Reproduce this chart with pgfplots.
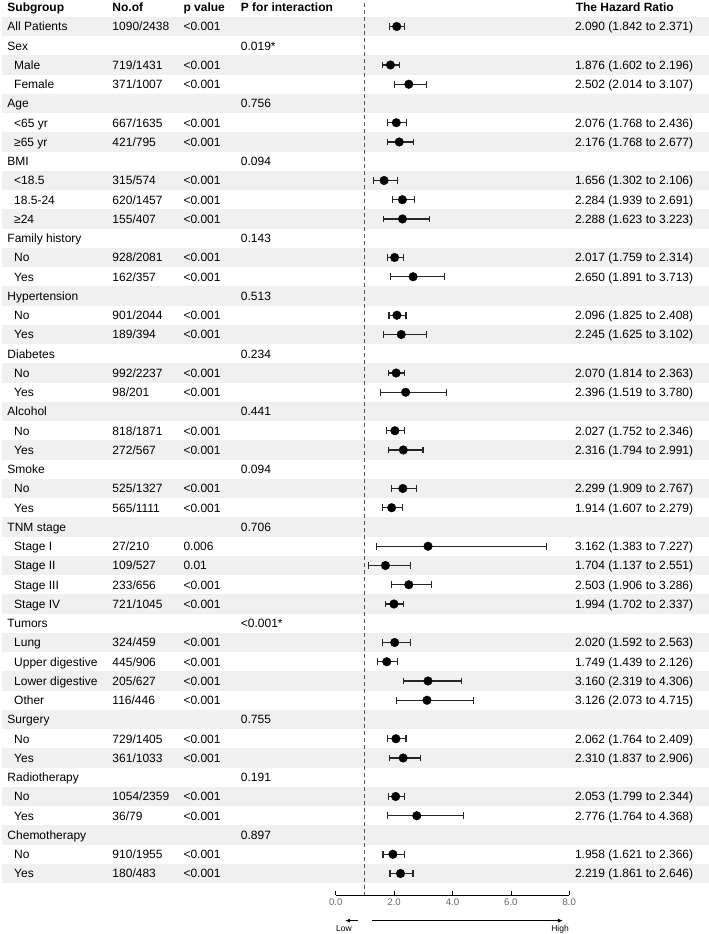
\documentclass[border=0pt]{standalone}
\usepackage{fontspec}
\setmainfont{Liberation Sans}
\usepackage{pgfplots}
\pgfplotsset{compat=1.18}
\usepackage{pgfplotstable}
\usetikzlibrary{arrows.meta}
\definecolor{band}{HTML}{F0F0F0}
\definecolor{dashc}{HTML}{555555}
\definecolor{tickc}{HTML}{666666}

\pgfplotstableread[col sep=comma]{
row,lev,label
1,0,All Patients
2,0,Sex
3,1,Male
4,1,Female
5,0,Age
6,1,<65 yr
7,1,≥65 yr
8,0,BMI
9,1,<18.5
10,1,18.5-24
11,1,≥24
12,0,Family history
13,1,No
14,1,Yes
15,0,Hypertension
16,1,No
17,1,Yes
18,0,Diabetes
19,1,No
20,1,Yes
21,0,Alcohol
22,1,No
23,1,Yes
24,0,Smoke
25,1,No
26,1,Yes
27,0,TNM stage
28,1,Stage I
29,1,Stage II
30,1,Stage III
31,1,Stage IV
32,0,Tumors
33,1,Lung
34,1,Upper digestive
35,1,Lower digestive
36,1,Other
37,0,Surgery
38,1,No
39,1,Yes
40,0,Radiotherapy
41,1,No
42,1,Yes
43,0,Chemotherapy
44,1,No
45,1,Yes
}\labtab

\pgfplotstableread[col sep=comma]{
row,n,p
1,1090/2438,<0.001
3,719/1431,<0.001
4,371/1007,<0.001
6,667/1635,<0.001
7,421/795,<0.001
9,315/574,<0.001
10,620/1457,<0.001
11,155/407,<0.001
13,928/2081,<0.001
14,162/357,<0.001
16,901/2044,<0.001
17,189/394,<0.001
19,992/2237,<0.001
20,98/201,<0.001
22,818/1871,<0.001
23,272/567,<0.001
25,525/1327,<0.001
26,565/1111,<0.001
28,27/210,0.006
29,109/527,0.01
30,233/656,<0.001
31,721/1045,<0.001
33,324/459,<0.001
34,445/906,<0.001
35,205/627,<0.001
36,116/446,<0.001
38,729/1405,<0.001
39,361/1033,<0.001
41,1054/2359,<0.001
42,36/79,<0.001
44,910/1955,<0.001
45,180/483,<0.001
}\nptab

\pgfplotstableread[col sep=comma]{
row,pint
2,0.019*
5,0.756
8,0.094
12,0.143
15,0.513
18,0.234
21,0.441
24,0.094
27,0.706
32,<0.001*
37,0.755
40,0.191
43,0.897
}\pinttab

\pgfplotstableread[col sep=comma]{
row,hr,lo,hi,txt
1,2.090,1.842,2.371,2.090 (1.842 to 2.371)
3,1.876,1.602,2.196,1.876 (1.602 to 2.196)
4,2.502,2.014,3.107,2.502 (2.014 to 3.107)
6,2.076,1.768,2.436,2.076 (1.768 to 2.436)
7,2.176,1.768,2.677,2.176 (1.768 to 2.677)
9,1.656,1.302,2.106,1.656 (1.302 to 2.106)
10,2.284,1.939,2.691,2.284 (1.939 to 2.691)
11,2.288,1.623,3.223,2.288 (1.623 to 3.223)
13,2.017,1.759,2.314,2.017 (1.759 to 2.314)
14,2.650,1.891,3.713,2.650 (1.891 to 3.713)
16,2.096,1.825,2.408,2.096 (1.825 to 2.408)
17,2.245,1.625,3.102,2.245 (1.625 to 3.102)
19,2.070,1.814,2.363,2.070 (1.814 to 2.363)
20,2.396,1.519,3.780,2.396 (1.519 to 3.780)
22,2.027,1.752,2.346,2.027 (1.752 to 2.346)
23,2.316,1.794,2.991,2.316 (1.794 to 2.991)
25,2.299,1.909,2.767,2.299 (1.909 to 2.767)
26,1.914,1.607,2.279,1.914 (1.607 to 2.279)
28,3.162,1.383,7.227,3.162 (1.383 to 7.227)
29,1.704,1.137,2.551,1.704 (1.137 to 2.551)
30,2.503,1.906,3.286,2.503 (1.906 to 3.286)
31,1.994,1.702,2.337,1.994 (1.702 to 2.337)
33,2.020,1.592,2.563,2.020 (1.592 to 2.563)
34,1.749,1.439,2.126,1.749 (1.439 to 2.126)
35,3.160,2.319,4.306,3.160 (2.319 to 4.306)
36,3.126,2.073,4.715,3.126 (2.073 to 4.715)
38,2.062,1.764,2.409,2.062 (1.764 to 2.409)
39,2.310,1.837,2.906,2.310 (1.837 to 2.906)
41,2.053,1.799,2.344,2.053 (1.799 to 2.344)
42,2.776,1.764,4.368,2.776 (1.764 to 4.368)
44,1.958,1.621,2.366,1.958 (1.621 to 2.366)
45,2.219,1.861,2.646,2.219 (1.861 to 2.646)
}\hrtab

\pgfplotsset{
  txtcol/.style={only marks, mark=none, point meta=explicit symbolic,
    nodes near coords={\pgfplotspointmeta},
    every node near coord/.append style={anchor=base west, inner sep=0pt,
      yshift=-4.5bp, font=\fontsize{12bp}{14bp}\selectfont, text=black}},
}

\begin{document}
\begin{tikzpicture}
\useasboundingbox (0,0) rectangle (709bp,934bp);
\begin{axis}[
  at={(335.7bp,39bp)}, anchor=south west,
  scale only axis, width=233.6bp, height=895bp,
  xmin=0, xmax=8, ymin=-46.117, ymax=0.3766,
  clip=false,
  axis y line=none, axis x line=bottom,
  x axis line style={-, line width=0.8bp, black},
  xtick={0,2,4,6,8}, xticklabels={0.0,2.0,4.0,6.0,8.0},
  tick align=inside, major tick length=4bp,
  xtick style={black, line width=0.8bp},
  xticklabel style={font=\fontsize{9.6bp}{11bp}\selectfont, text=tickc},
]
\pgfplotsinvokeforeach{1,3,...,45}{
  \fill[band] (axis cs:-11.428,{-#1+0.5}) rectangle (axis cs:12.784,{-#1-0.5});
}
\addplot[dashc, line width=0.9bp, dash pattern=on 4bp off 3bp] coordinates {(1,0.221) (1,-46.117)};

\addplot[txtcol] table[x expr={-11.247+0.23*\thisrow{lev}}, y expr={-\thisrow{row}}, meta=label] {\labtab};
\addplot[txtcol] table[x expr={-7.651}, y expr={-\thisrow{row}}, meta=n] {\nptab};
\addplot[txtcol] table[x expr={-5.219}, y expr={-\thisrow{row}}, meta=p] {\nptab};
\addplot[txtcol] table[x expr={-3.253}, y expr={-\thisrow{row}}, meta=pint] {\pinttab};
\addplot[txtcol] table[x expr={8.19}, y expr={-\thisrow{row}}, meta=txt] {\hrtab};

\addplot[only marks, mark=*, mark size=4.3bp, mark options={fill=black, draw=black},
  error bars/.cd, x dir=both, x explicit,
  error mark=-,
  error bar style={line width=1.2bp, color=black!85},
  error mark options={rotate=90, mark size=3.3bp, line width=1.1bp, color=black!85}]
  table[x=hr, y expr={-\thisrow{row}}, x error plus expr={\thisrow{hi}-\thisrow{hr}},
        x error minus expr={\thisrow{hr}-\thisrow{lo}}] {\hrtab};

\begin{scope}[every node/.style={anchor=base west, inner sep=0pt, yshift=-4.5bp,
    font=\fontsize{12bp}{14bp}\selectfont\bfseries}]
\node at (axis cs:-11.247,0) {Subgroup};
\node at (axis cs:-7.651,0) {No.of};
\node at (axis cs:-5.219,0) {p value};
\node at (axis cs:-3.253,0) {P for interaction};
\node at (axis cs:8.215,0) {The Hazard Ratio};
\end{scope}

\draw[-{Latex[length=5bp,width=4bp]}, line width=0.9bp] (axis cs:0.764,-47.45) -- (axis cs:0.318,-47.45);
\draw[-{Latex[length=5bp,width=4bp]}, line width=0.9bp] (axis cs:1.233,-47.45) -- (axis cs:7.784,-47.45);
\node[anchor=base, inner sep=0pt, font=\fontsize{8.5bp}{10bp}\selectfont] at (axis cs:0.284,-48.01) {Low};
\node[anchor=base, inner sep=0pt, font=\fontsize{8.5bp}{10bp}\selectfont] at (axis cs:7.682,-48.01) {High};
\end{axis}
\end{tikzpicture}
\end{document}
